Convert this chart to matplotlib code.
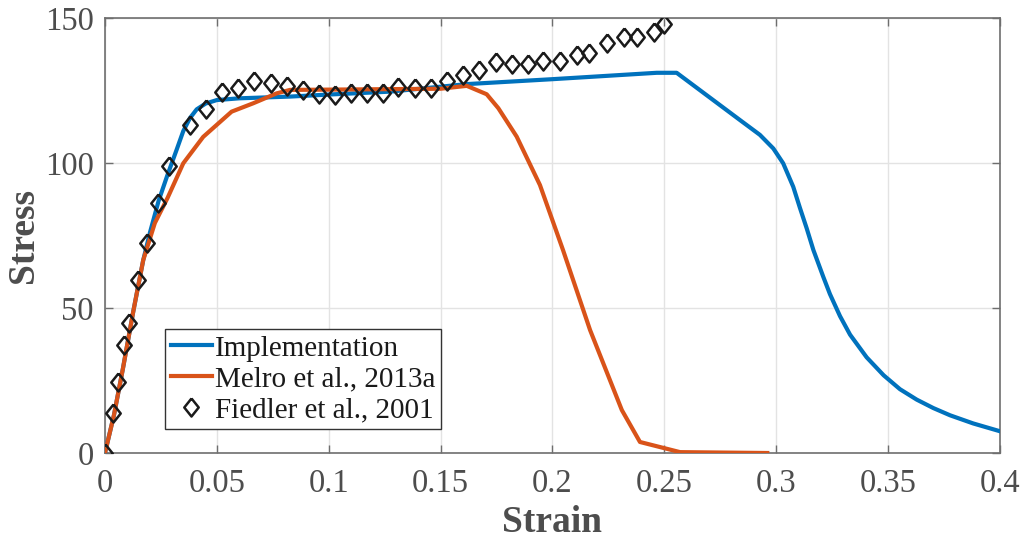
import numpy as np
from matplotlib import pyplot as plt
from matplotlib import rcParams

rcParams['font.family'] = 'serif'
rcParams['font.serif'] = ['Liberation Serif', 'DejaVu Serif']
rcParams['mathtext.fontset'] = 'stix'

# Implementation (numerical model)
impl_strain = [0, 0.004, 0.008, 0.0127, 0.0171, 0.0201, 0.024, 0.028, 0.032,
               0.035, 0.038, 0.041, 0.045, 0.05, 0.06, 0.0827, 0.1, 0.1274,
               0.1617, 0.2, 0.2466, 0.2555, 0.2838, 0.2927, 0.2987, 0.3031,
               0.3076, 0.3106, 0.3136, 0.3166, 0.321, 0.324, 0.3285, 0.333,
               0.3404, 0.348, 0.3553, 0.3628, 0.3702, 0.3777, 0.388, 0.4]
impl_stress = [0, 13, 29, 49, 66.5, 76, 87, 96, 104.5,
               111, 115.5, 118.5, 120.5, 121.7, 122.3, 122.9, 123.6, 124.6,
               127.2, 128.9, 131.1, 131.1, 114.8, 109.7, 105, 99.9,
               91.8, 84.5, 77.5, 70, 60.8, 54.8, 47.2, 40.8,
               33.0, 26.8, 22.0, 18.4, 15.5, 13.0, 10.2, 7.5]

# Melro et al., 2013a
melro_strain = [0, 0.004, 0.008, 0.0127, 0.0171, 0.0223, 0.028, 0.035, 0.0439,
                0.0566, 0.0663, 0.0767, 0.0827, 0.1, 0.15, 0.1617, 0.1706,
                0.1758, 0.184, 0.1944, 0.2047, 0.2168, 0.231, 0.2391, 0.257,
                0.296]
melro_stress = [0, 13, 29, 49, 66.5, 79.3, 88, 99.9, 109,
                117.7, 120.6, 124, 125.2, 125.3, 125.6, 126.6, 123.7,
                118.9, 109.1, 92.4, 70, 42.4, 14.8, 3.8, 0.3,
                0]

# Fiedler et al., 2001 (experiment)
fiedler_strain = [0, 0.0034, 0.006, 0.0085, 0.0109, 0.0149, 0.0186, 0.0238,
                  0.0286, 0.038, 0.0451, 0.0524, 0.0596, 0.0667, 0.0741,
                  0.0812, 0.0884, 0.0956, 0.1028, 0.1098, 0.117, 0.1241,
                  0.1311, 0.1385, 0.1457, 0.1527, 0.1599, 0.1672, 0.1746,
                  0.182, 0.1889, 0.1959, 0.2034, 0.2108, 0.2163, 0.2242,
                  0.2321, 0.2379, 0.2454, 0.2498]
fiedler_stress = [0, 13.7, 24.6, 37.2, 44.9, 59.7, 72.5, 86.3,
                  99.1, 113.1, 118.6, 124.4, 125.8, 128.3, 127.7,
                  126.6, 125.2, 123.8, 123.4, 124, 124.2, 124,
                  126.1, 125.7, 125.7, 128.4, 130.3, 132, 134.7,
                  134.1, 134.1, 135.2, 135.2, 137.2, 137.8, 141.3,
                  143.3, 143.3, 145, 147.9]

xticks = [0, 0.05, 0.1, 0.15, 0.2, 0.25, 0.3, 0.35, 0.4]
xticklabels = ['0', '0.05', '0.1', '0.15', '0.2', '0.25', '0.3', '0.35', '0.4']
yticks = [0, 50, 100, 150]

text_grey = '#4d4d4d'
axis_grey = '#6e6e6e'

fig = plt.figure(figsize=(10.25, 5.4), dpi=100)
ax = fig.add_axes([0.1024, 0.1611, 0.8732, 0.8056])

# matlab-style diamond (a bit wider than matplotlib's 'd')
diamond = [(0, 1), (0.8, 0), (0, -1), (-0.8, 0), (0, 1)]

ax.plot(impl_strain, impl_stress, color='#0072BD', lw=3,
        label='Implementation', zorder=3)
ax.plot(melro_strain, melro_stress, color='#D95319', lw=3,
        label='Melro et al., 2013a', zorder=3)
ax.plot(fiedler_strain, fiedler_stress, ls='none', marker=diamond,
        markersize=13, markerfacecolor='none', markeredgecolor='#1a1a1a',
        markeredgewidth=1.8, label='Fiedler et al., 2001', zorder=4)

ax.set_xlim(0, 0.4)
ax.set_ylim(0, 150)
ax.set_xticks(xticks)
ax.set_xticklabels(xticklabels)
ax.set_yticks(yticks)

ax.grid(True, color='#e3e3e3', lw=1.0, zorder=0)
ax.set_axisbelow(True)

ax.tick_params(direction='in', length=6, width=1, colors=axis_grey,
               labelcolor=text_grey, labelsize=23.5, top=True, right=True)
ax.tick_params(axis='x', pad=11.5)
ax.tick_params(axis='y', pad=8)
for s in ax.spines.values():
    s.set_color(axis_grey)
    s.set_linewidth(1.2)

ax.set_xlabel('Strain', fontsize=27, fontweight='bold', color=text_grey,
              labelpad=4)
ax.set_ylabel('Stress', fontsize=27, fontweight='bold', color=text_grey,
              labelpad=3)

leg = ax.legend(loc='lower left', bbox_to_anchor=(0.067, 0.055),
                fontsize=21, fancybox=False, edgecolor='#333333',
                framealpha=1, handlelength=1.4, handletextpad=0.12,
                labelspacing=0.15, borderpad=0.2, borderaxespad=0)
leg.get_frame().set_linewidth(1.0)
for t in leg.get_texts():
    t.set_color('#1a1a1a')

fig.savefig('out.png', dpi=100)
